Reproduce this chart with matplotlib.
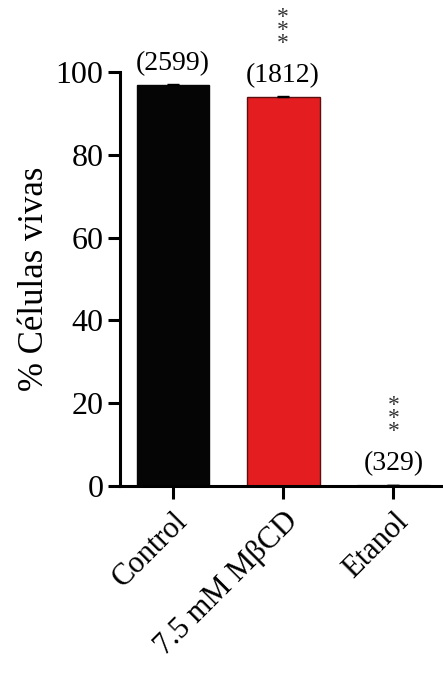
import matplotlib
matplotlib.use("Agg")
import matplotlib.pyplot as plt
import numpy as np

categories = ["Control", "7.5 mM MβCD", "Etanol"]
values = [97.0, 94.1, 0.3]
errors = [0.15, 0.15, 0.05]
counts = ["(2599)", "(1812)", "(329)"]
stars = ["", "*\n*\n*", "*\n*\n*"]
colors = ["#050505", "#e41e20", "#ffffff"]
yticks = [0, 20, 40, 60, 80, 100]

plt.rcParams["font.family"] = ["Liberation Serif", "DejaVu Serif"]

fig = plt.figure(figsize=(4.43, 6.75), dpi=100)
ax = fig.add_axes([0.271, 0.28, 0.729, 0.613])

x = np.arange(len(categories))
ax.bar(x, values, width=0.66, color=colors, edgecolor=["#050505", "#5a1010", "#999999"],
       linewidth=1.0, yerr=errors, capsize=4, error_kw=dict(elinewidth=1, capthick=1))

for xi, v, c, s in zip(x, values, counts, stars):
    ax.text(xi, v + 2.0, c, ha="center", va="bottom", fontsize=20)
    if s:
        ax.text(xi, v + 10.3, s, ha="center", va="bottom", fontsize=17,
                linespacing=0.5, color="#333333", clip_on=False)

ax.set_xlim(-0.48, 2.45)
ax.set_ylim(0, 100)
ax.set_yticks(yticks)
ax.set_xticks(x)
ax.set_xticklabels(categories, rotation=45, ha="right", rotation_mode="anchor")
ax.tick_params(axis="y", labelsize=23, width=2.2, length=9, pad=3)
ax.tick_params(axis="x", labelsize=22, width=2.2, length=9, pad=6)
ax.set_ylabel("% Células vivas", fontsize=25, labelpad=3)

for side in ["top", "right"]:
    ax.spines[side].set_visible(False)
for side in ["left", "bottom"]:
    ax.spines[side].set_linewidth(2.2)

fig.savefig("out.png", dpi=100)
